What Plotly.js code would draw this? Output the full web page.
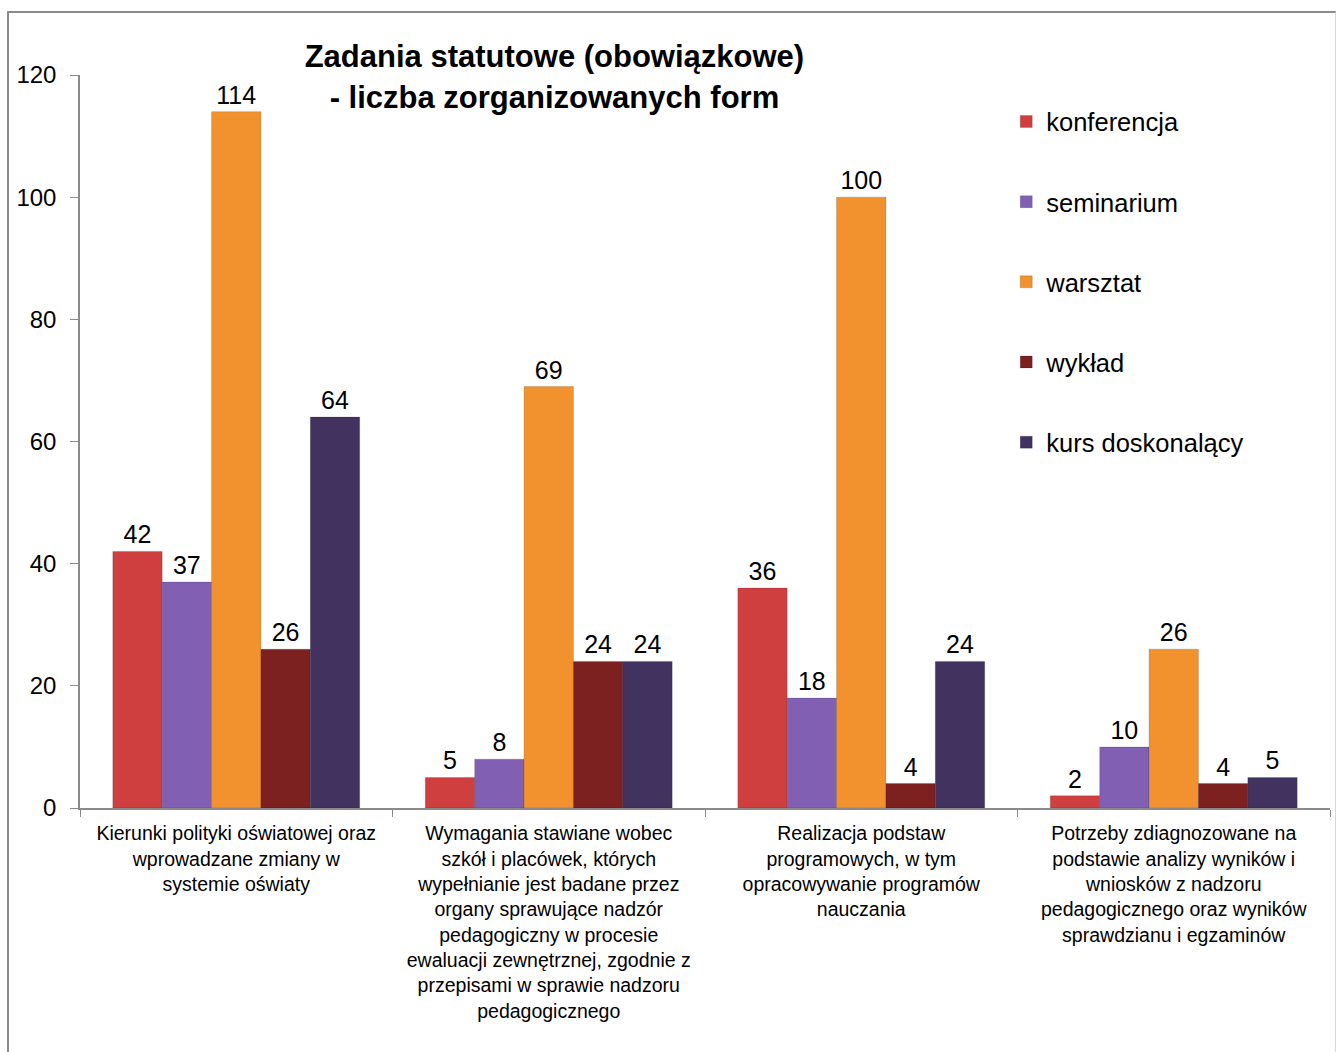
<!DOCTYPE html>
<html>
<head>
<meta charset="utf-8">
<script src="https://cdn.plot.ly/plotly-3.0.1.min.js"></script>
<style>
  html, body { margin: 0; padding: 0; background: #fff; }
  #frame { position: absolute; left: 7px; top: 11px; width: 1326px; height: 1100px;
           border-left: 2px solid #8a8a8a; border-top: 2px solid #8a8a8a; border-right: 1px solid #d8d8d8; }
  #chart { position: absolute; left: 0; top: 0; width: 1336px; height: 1052px; }
</style>
</head>
<body>
<div id="frame"></div>
<div id="chart"></div>
<script>
const categories = [
  "Kierunki polityki oświatowej oraz<br>wprowadzane zmiany w<br>systemie oświaty",
  "Wymagania stawiane wobec<br>szkół i placówek, których<br>wypełnianie jest badane przez<br>organy sprawujące nadzór<br>pedagogiczny w procesie<br>ewaluacji zewnętrznej, zgodnie z<br>przepisami w sprawie nadzoru<br>pedagogicznego",
  "Realizacja podstaw<br>programowych, w tym<br>opracowywanie programów<br>nauczania",
  "Potrzeby zdiagnozowane na<br>podstawie analizy wyników i<br>wniosków z nadzoru<br>pedagogicznego oraz wyników<br>sprawdzianu i egzaminów"
];
const seriesNames = ["konferencja", "seminarium", "warsztat", "wykład", "kurs doskonalący"];
const konferencja = [42, 5, 36, 2];
const seminarium = [37, 8, 18, 10];
const warsztat = [114, 69, 100, 26];
const wyklad = [26, 24, 4, 4];
const kurs = [64, 24, 24, 5];
const yTicks = [0, 20, 40, 60, 80, 100, 120];

const seriesValues = [konferencja, seminarium, warsztat, wyklad, kurs];
const colors = ["#cf3f3f", "#8160b4", "#f2922e", "#7c2020", "#42325f"];
const FONT = "'Liberation Sans', Arial, sans-serif";

const traces = seriesNames.map((name, i) => ({
  type: "bar",
  name: name,
  x: categories,
  y: seriesValues[i],
  text: seriesValues[i].map(String),
  textposition: "outside",
  textfont: { family: FONT, size: 25, color: "#000" },
  cliponaxis: false,
  legendgroup: "g" + i,
  marker: { color: colors[i], line: { color: "rgba(0,0,0,0.15)", width: 1 } },
  hoverinfo: "name+y"
}));

const layout = {
  width: 1336,
  height: 1052,
  paper_bgcolor: "rgba(0,0,0,0)",
  plot_bgcolor: "rgba(0,0,0,0)",
  margin: { l: 80, r: 6, t: 75, b: 244 },
  font: { family: FONT, color: "#000" },
  title: {
    text: "<b>Zadania statutowe (obowiązkowe)<br>- liczba zorganizowanych form</b>",
    font: { family: FONT, size: 31, color: "#000" },
    x: 0.415, xanchor: "center",
    y: 0.936, yanchor: "middle",
    xref: "container", yref: "container"
  },
  bargap: 0.21,
  bargroupgap: 0,
  barmode: "group",
  xaxis: {
    type: "category",
    showline: true, linecolor: "#8a8a8a", linewidth: 1.5,
    ticks: "outside", tickson: "boundaries", ticklen: 7, tickcolor: "#8a8a8a",
    tickfont: { family: FONT, size: 19.5, color: "#000" },
    ticklabelstandoff: 7,
    showgrid: false, zeroline: false,
    fixedrange: true
  },
  yaxis: {
    range: [0, 120],
    tickvals: yTicks,
    ticktext: yTicks.map(String),
    showline: true, linecolor: "#8a8a8a", linewidth: 1.5,
    ticks: "outside", ticklen: 8, tickcolor: "#8a8a8a",
    tickfont: { family: FONT, size: 24, color: "#000" },
    ticklabelstandoff: 9,
    showgrid: false, zeroline: false,
    fixedrange: true
  },
  legend: {
    x: 0.741, xanchor: "left",
    y: 0.968, yanchor: "top",
    font: { family: FONT, size: 25.5, color: "#000" },
    traceorder: "grouped",
    tracegroupgap: 44,
    bgcolor: "rgba(0,0,0,0)",
    itemwidth: 30
  },
  showlegend: true
};

Plotly.newPlot("chart", traces, layout, { displayModeBar: false });
</script>
</body>
</html>
